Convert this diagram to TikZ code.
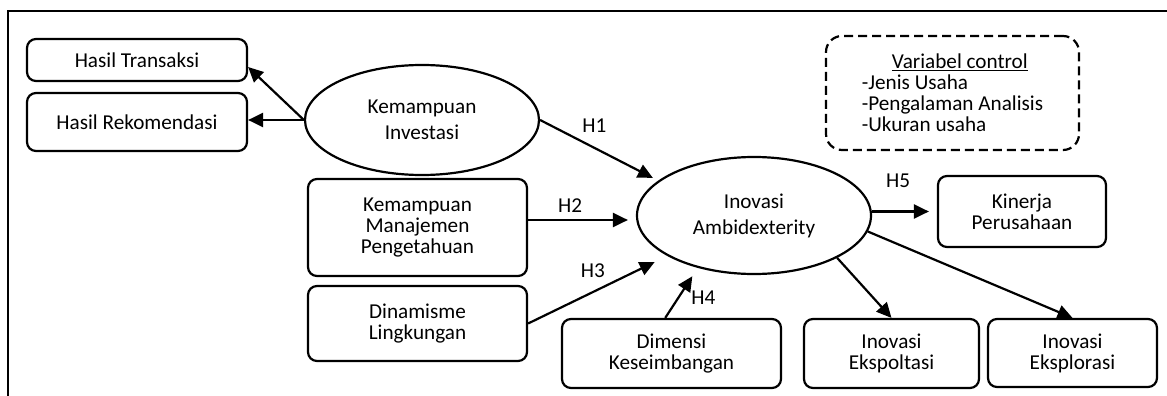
\documentclass[tikz,border=0pt]{standalone}
\usepackage{fontspec}
\setmainfont{Carlito}
\usetikzlibrary{arrows.meta,shapes.geometric}
\begin{document}
\begin{tikzpicture}
[x=1pt,y=-1pt,
  boxdecorate/.style={shape=rectangle,rounded corners=9pt,draw,line width=2.2pt,%
    inner sep=0pt,align=center,font=\fontsize{21.2}{21}\selectfont},%
  ovaldecorate/.style={shape=ellipse,draw,line width=2.2pt,inner sep=0pt,%
    align=center,font=\fontsize{21.2}{26}\selectfont},%
  controldecorate/.style={shape=rectangle,rounded corners=16pt,draw,line width=2.2pt,%
    dash pattern=on 9pt off 5pt,inner sep=0pt,align=left,%
    font=\fontsize{21.2}{21}\selectfont},%
  linedecorate/.style={-{Triangle[length=15pt,width=14pt]},line width=2.2pt},%
  labeldecorate/.style={inner sep=0pt,font=\fontsize{21.2}{21}\selectfont}]
\useasboundingbox (0,0) rectangle (1167,396);
%% frame
\draw[line width=2.8pt] (8,396) -- (8,11) -- (1167,11);
%%
%% boxes
\foreach \nodename/\x/\y/\w/\h/\txt in {ht/137/60/220/42/{Hasil Transaksi},
  hr/137/122/220/58/{Hasil Rekomendasi},
  kmp/417.5/227.5/219/97/{Kemampuan\\Manajemen\\Pengetahuan},
  din/417.5/323.5/219/75/{Dinamisme\\Lingkungan},
  dim/671.5/353.5/219/69/{Dimensi\\Keseimbangan},
  eks/891.5/353.5/175/69/{Inovasi\\Ekspoltasi},
  eksp/1072.5/353/169/68/{Inovasi\\Eksplorasi},
  kin/1022/211.5/168/71/{Kinerja\\Perusahaan}} {
  \node (\nodename) at (\x,\y) [boxdecorate,minimum width=\w pt,minimum height=\h pt] {\txt};
}
%% ellipses
\node (ki) at (422,120) [ovaldecorate,minimum width=234pt,minimum height=110pt] {Kemampuan\\Investasi};
\node (ia) at (754,215.5) [ovaldecorate,minimum width=234pt,minimum height=117pt] {Inovasi\\Ambidexterity};
%% control variables
\node (ctrl) at (952.5,93) [controldecorate,minimum width=253pt,minimum height=114pt]
  {\hspace*{30pt}\underline{Variabel control}\\-Jenis Usaha\\-Pengalaman Analisis\hspace*{15pt}\\-Ukuran usaha};
%%
%% arrows
\draw[linedecorate] (ki.west) -- ([yshift=-7pt]ht.east);
\draw[linedecorate] (ki.west) -- (ki.west -| hr.east);
\draw[linedecorate,shorten >=6pt] (ki.east) -- node[labeldecorate,pos=0.46,above=14.5pt] (h1) {H1} (ia.160);
\draw[linedecorate,shorten >=8pt] ([yshift=7.5pt]kmp.east) -- node[labeldecorate,pos=0.39,above=6.5pt] (h2) {H2} ([yshift=7.5pt]kmp.east -| ia.west);
\draw[linedecorate,shorten >=14pt] (din.east) -- node[labeldecorate,pos=0.466,above=13pt] (h3) {H3} (ia.205);
\draw[linedecorate,shorten >=10pt] (dim.100) -- node[labeldecorate,pos=0.4,right=12pt] (h4) {H4} (ia.223);
\draw[linedecorate,shorten >=8pt] (kin.west -| ia.east) -- node[labeldecorate,pos=0.4,above=23pt] (h5) {H5} (kin.west);
\draw[linedecorate] (ia.-27) -- (eks.north);
\draw[linedecorate] (ia.-8) -- (eksp.north);
\end{tikzpicture}
\end{document}
